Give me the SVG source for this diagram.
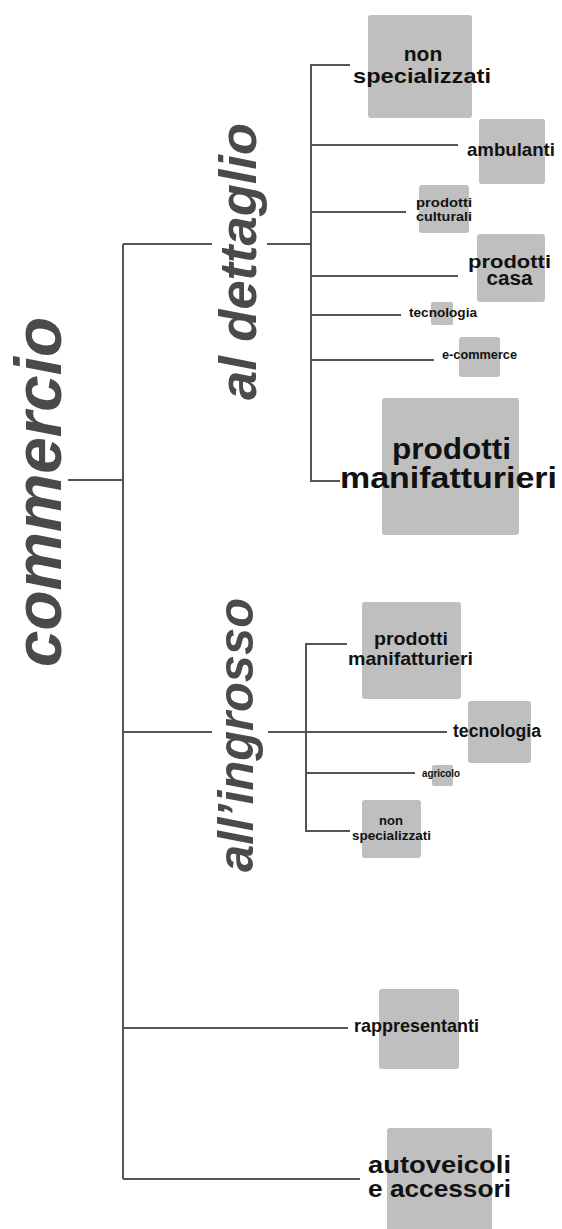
<svg xmlns="http://www.w3.org/2000/svg" width="562" height="1229" viewBox="0 0 562 1229">
<style>
.box{fill:#bfbfbf}
.t{font-family:"Liberation Sans",Arial,sans-serif;font-weight:bold;fill:#111;text-anchor:middle}
.r{font-family:"Liberation Sans",Arial,sans-serif;font-weight:bold;font-style:italic;fill:#4a4a4a;text-anchor:middle}
.c line,.c path{stroke:#555;stroke-width:2;fill:none}
</style>
<rect width="562" height="1229" fill="#fff"/>
<g class="c" id="connectors">
<line x1="68" y1="480" x2="123" y2="480"/>
<line x1="123" y1="244" x2="123" y2="1179"/>
<line x1="123" y1="244" x2="212" y2="244"/>
<line x1="267" y1="244" x2="311" y2="244"/>
<path d="M350 65H311V481H340"/>
<line x1="311" y1="145" x2="458" y2="145"/>
<line x1="311" y1="212" x2="406" y2="212"/>
<line x1="311" y1="276" x2="458" y2="276"/>
<line x1="311" y1="315" x2="401" y2="315"/>
<line x1="311" y1="360" x2="434" y2="360"/>
<line x1="123" y1="732" x2="212" y2="732"/>
<line x1="268" y1="732" x2="447" y2="732"/>
<path d="M347 644H306V831H350"/>
<line x1="306" y1="773" x2="415" y2="773"/>
<line x1="123" y1="1028" x2="348" y2="1028"/>
<line x1="123" y1="1179" x2="360" y2="1179"/>
</g>
<g id="commercio"><text class="r" font-size="66" transform="translate(61,492) rotate(-90)" textLength="350" lengthAdjust="spacingAndGlyphs">commercio</text></g>
<g id="al-dettaglio"><text class="r" font-size="52" transform="translate(256,261.5) rotate(-90)" textLength="277" lengthAdjust="spacingAndGlyphs">al dettaglio</text></g>
<g id="all-ingrosso"><text class="r" font-size="50" transform="translate(253,735) rotate(-90)" textLength="274" lengthAdjust="spacingAndGlyphs">all’ingrosso</text></g>

<g id="d-non-specializzati"><rect class="box" x="368" y="15" width="104" height="103" rx="3"/>
<text class="t" font-size="21" x="423" y="61">non</text>
<text class="t" font-size="21" x="422" y="83" textLength="138" lengthAdjust="spacingAndGlyphs">specializzati</text></g>
<g id="d-ambulanti"><rect class="box" x="479" y="119" width="66" height="65" rx="3"/>
<text class="t" font-size="19" x="511" y="156" textLength="88" lengthAdjust="spacingAndGlyphs">ambulanti</text></g>
<g id="d-prodotti-culturali"><rect class="box" x="419" y="185" width="50" height="48" rx="3"/>
<text class="t" font-size="13.5" x="444" y="207" textLength="56" lengthAdjust="spacingAndGlyphs">prodotti</text>
<text class="t" font-size="13.5" x="444" y="220.5" textLength="56" lengthAdjust="spacingAndGlyphs">culturali</text></g>
<g id="d-prodotti-casa"><rect class="box" x="477" y="234" width="68" height="68" rx="3"/>
<text class="t" font-size="19" x="509.5" y="268" textLength="83" lengthAdjust="spacingAndGlyphs">prodotti</text>
<text class="t" font-size="20" x="509.5" y="285" textLength="46" lengthAdjust="spacingAndGlyphs">casa</text></g>
<g id="d-tecnologia"><rect class="box" x="431" y="302" width="22" height="23" rx="2"/>
<text class="t" font-size="13.5" x="443" y="317" textLength="68" lengthAdjust="spacingAndGlyphs">tecnologia</text></g>
<g id="d-e-commerce"><rect class="box" x="459" y="337" width="41" height="40" rx="3"/>
<text class="t" font-size="13" x="479.5" y="359" textLength="75" lengthAdjust="spacingAndGlyphs">e-commerce</text></g>
<g id="d-prodotti-manifatturieri"><rect class="box" x="382" y="398" width="137" height="137" rx="3"/>
<text class="t" font-size="30" x="451.5" y="459" textLength="119" lengthAdjust="spacingAndGlyphs">prodotti</text>
<text class="t" font-size="30" x="448.5" y="488" textLength="217" lengthAdjust="spacingAndGlyphs">manifatturieri</text></g>

<g id="i-prodotti-manifatturieri"><rect class="box" x="362" y="602" width="99" height="97" rx="3"/>
<text class="t" font-size="18.5" x="411" y="645" textLength="74" lengthAdjust="spacingAndGlyphs">prodotti</text>
<text class="t" font-size="18.5" x="410.5" y="665" textLength="125" lengthAdjust="spacingAndGlyphs">manifatturieri</text></g>
<g id="i-tecnologia"><rect class="box" x="468" y="701" width="63" height="62" rx="3"/>
<text class="t" font-size="17.5" x="497" y="737" textLength="88" lengthAdjust="spacingAndGlyphs">tecnologia</text></g>
<g id="i-agricolo"><rect class="box" x="432" y="765" width="21" height="21" rx="2"/>
<text class="t" font-size="10" x="441" y="777" textLength="38" lengthAdjust="spacingAndGlyphs">agricolo</text></g>
<g id="i-non-specializzati"><rect class="box" x="362" y="800" width="59" height="58" rx="3"/>
<text class="t" font-size="13" x="391" y="825">non</text>
<text class="t" font-size="13" x="391.5" y="840" textLength="79" lengthAdjust="spacingAndGlyphs">specializzati</text></g>

<g id="rappresentanti"><rect class="box" x="379" y="989" width="80" height="80" rx="3"/>
<text class="t" font-size="18.5" x="416.5" y="1032" textLength="125" lengthAdjust="spacingAndGlyphs">rappresentanti</text></g>
<g id="autoveicoli"><rect class="box" x="387" y="1128" width="105" height="110" rx="3"/>
<text class="t" font-size="24" x="439.5" y="1173" textLength="143" lengthAdjust="spacingAndGlyphs">autoveicoli</text>
<text class="t" font-size="24" x="439.5" y="1197" textLength="143" lengthAdjust="spacingAndGlyphs">e accessori</text></g>
</svg>
